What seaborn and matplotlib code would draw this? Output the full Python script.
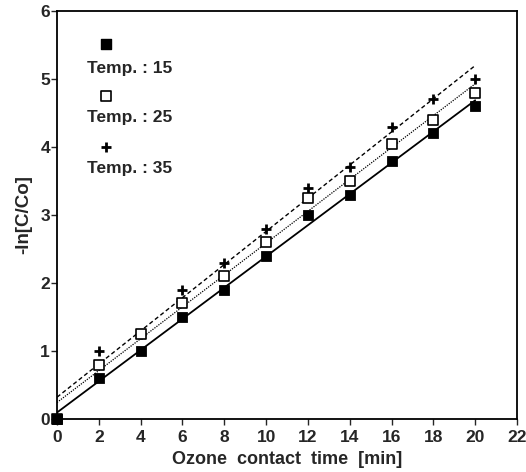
import numpy as np
import pandas as pd
import matplotlib
matplotlib.use("Agg")
import matplotlib.pyplot as plt
import seaborn as sns

time_min = [0, 2, 4, 6, 8, 10, 12, 14, 16, 18, 20]
temp15 = [0.0, 0.6, 1.0, 1.5, 1.9, 2.4, 3.0, 3.3, 3.8, 4.2, 4.6]
temp25 = [0.0, 0.8, 1.25, 1.7, 2.1, 2.6, 3.25, 3.5, 4.05, 4.4, 4.8]
temp35 = [0.0, 1.0, 1.25, 1.9, 2.3, 2.8, 3.4, 3.7, 4.3, 4.7, 5.0]
labels = ["Temp. : 15", "Temp. : 25", "Temp. : 35"]
xticks = list(range(0, 23, 2))
yticks = list(range(0, 7))

sns.set_style("ticks")
plt.rcParams['font.family'] = ['Liberation Sans', 'DejaVu Sans']
plt.rcParams['font.weight'] = 'bold'

fig = plt.figure(figsize=(5.26, 4.72), dpi=100)
ax = fig.add_axes([57/526, 1-419/472, 460/526, 408/472])

df = pd.DataFrame({"t": time_min, "a": temp15, "b": temp25, "c": temp35})

# fitted lines
sns.regplot(data=df, x="t", y="c", ax=ax, ci=None, scatter=False,
            line_kws=dict(color="black", lw=1.0, ls=(0, (3, 2))))
sns.regplot(data=df, x="t", y="b", ax=ax, ci=None, scatter=False,
            line_kws=dict(color="black", lw=0.9, ls=(0, (1, 1))))
sns.regplot(data=df, x="t", y="a", ax=ax, ci=None, scatter=False,
            line_kws=dict(color="black", lw=1.3, ls="-"))

# points
sns.scatterplot(data=df, x="t", y="c", ax=ax, marker="+", s=60, color="black",
                linewidth=2.0, zorder=5, clip_on=False)
sns.scatterplot(data=df, x="t", y="b", ax=ax, marker="s", s=55, facecolor="white",
                edgecolor="black", linewidth=1.2, zorder=6, clip_on=False)
sns.scatterplot(data=df, x="t", y="a", ax=ax, marker="s", s=55, color="black",
                edgecolor="black", zorder=7, clip_on=False)

ax.set_xlim(0, 22)
ax.set_ylim(0, 6)
ax.set_xticks(xticks)
ax.set_yticks(yticks)
ax.tick_params(axis="both", direction="out", length=4, width=1, labelsize=12.5)
ax.tick_params(axis="x", pad=4)
ax.tick_params(axis="y", pad=1)
for lab in ax.get_xticklabels() + ax.get_yticklabels():
    lab.set_fontweight("bold")
for s in ax.spines.values():
    s.set_visible(True)
    s.set_linewidth(1.3)
    s.set_color("black")
ax.set_xlabel("Ozone  contact  time  [min]", fontsize=13, fontweight="bold", labelpad=4)
ax.set_ylabel("-ln[C/Co]", fontsize=13.5, fontweight="bold", labelpad=6)

# legend (marker above text)
leg_marker_y = [0.919, 0.792, 0.667]
leg_text_y = [0.860, 0.738, 0.615]
styles = [dict(marker="s", s=45, facecolor="black", edgecolor="black"),
          dict(marker="s", s=50, facecolor="white", edgecolor="black", linewidth=1.2),
          dict(marker="+", s=50, color="black", linewidth=2.0)]
for my, ty, lab, st in zip(leg_marker_y, leg_text_y, labels, styles):
    ax.scatter([0.1065], [my], transform=ax.transAxes, clip_on=False, zorder=8, **st)
    ax.text(0.065, ty, lab, transform=ax.transAxes, fontsize=12.5, fontweight="bold",
            va="center", ha="left")

fig.savefig("out.png", dpi=100)
